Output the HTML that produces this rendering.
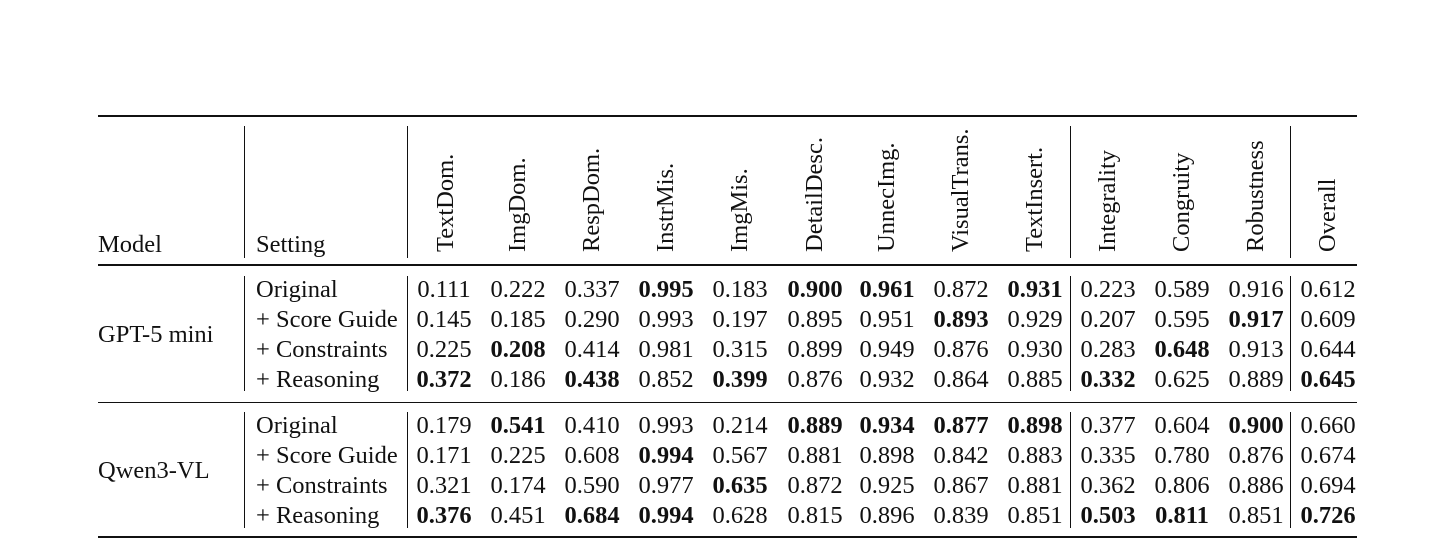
<!DOCTYPE html>
<html><head><meta charset="utf-8"><style>
body{margin:0;width:1456px;height:539px;background:#fff;position:relative;overflow:hidden;font-family:"Liberation Serif",serif;color:#111;font-size:24.5px}
.h{position:absolute;background:#111}
.c{position:absolute;width:90px;text-align:center;line-height:26px;white-space:nowrap}
.t{position:absolute;line-height:26px;white-space:nowrap}
.r{position:absolute;top:252px;line-height:24px;white-space:nowrap;transform-origin:0 0;transform:rotate(-90deg)}
b{font-weight:bold}
</style></head><body>
<div class="h" style="left:98px;top:115px;width:1259px;height:2px"></div>
<div class="h" style="left:98px;top:264px;width:1259px;height:2px"></div>
<div class="h" style="left:98px;top:402px;width:1259px;height:1px"></div>
<div class="h" style="left:98px;top:536px;width:1259px;height:2px"></div>

<div class="h" style="left:244px;top:126px;width:1px;height:132px"></div>
<div class="h" style="left:407px;top:126px;width:1px;height:132px"></div>
<div class="h" style="left:1070px;top:126px;width:1px;height:132px"></div>
<div class="h" style="left:1290px;top:126px;width:1px;height:132px"></div>
<div class="h" style="left:244px;top:276px;width:1px;height:115px"></div>
<div class="h" style="left:407px;top:276px;width:1px;height:115px"></div>
<div class="h" style="left:1070px;top:276px;width:1px;height:115px"></div>
<div class="h" style="left:1290px;top:276px;width:1px;height:115px"></div>
<div class="h" style="left:244px;top:412px;width:1px;height:116px"></div>
<div class="h" style="left:407px;top:412px;width:1px;height:116px"></div>
<div class="h" style="left:1070px;top:412px;width:1px;height:116px"></div>
<div class="h" style="left:1290px;top:412px;width:1px;height:116px"></div>

<div class="t" style="left:98px;top:232px">Model</div>
<div class="t" style="left:256px;top:232px">Setting</div>
<div class="r" style="left:434px">TextDom.</div>
<div class="r" style="left:506px">ImgDom.</div>
<div class="r" style="left:580px">RespDom.</div>
<div class="r" style="left:654px">InstrMis.</div>
<div class="r" style="left:728px">ImgMis.</div>
<div class="r" style="left:803px">DetailDesc.</div>
<div class="r" style="left:875px">UnnecImg.</div>
<div class="r" style="left:949px">VisualTrans.</div>
<div class="r" style="left:1023px">TextInsert.</div>
<div class="r" style="left:1096px">Integrality</div>
<div class="r" style="left:1170px">Congruity</div>
<div class="r" style="left:1244px">Robustness</div>
<div class="r" style="left:1316px">Overall</div>

<div class="t" style="left:98px;top:322px">GPT-5 mini</div>
<div class="t" style="left:98px;top:458px">Qwen3-VL</div>

<div id="rows"></div>
<script>
var cx=[444,518,592,666,740,815,887,961,1035,1108,1182,1256,1328];
var rows=[
[277,"Original","0.111|0.222|0.337|*0.995|0.183|*0.900|*0.961|0.872|*0.931|0.223|0.589|0.916|0.612"],
[307,"+ Score Guide","0.145|0.185|0.290|0.993|0.197|0.895|0.951|*0.893|0.929|0.207|0.595|*0.917|0.609"],
[337,"+ Constraints","0.225|*0.208|0.414|0.981|0.315|0.899|0.949|0.876|0.930|0.283|*0.648|0.913|0.644"],
[367,"+ Reasoning","*0.372|0.186|*0.438|0.852|*0.399|0.876|0.932|0.864|0.885|*0.332|0.625|0.889|*0.645"],
[413,"Original","0.179|*0.541|0.410|0.993|0.214|*0.889|*0.934|*0.877|*0.898|0.377|0.604|*0.900|0.660"],
[443,"+ Score Guide","0.171|0.225|0.608|*0.994|0.567|0.881|0.898|0.842|0.883|0.335|0.780|0.876|0.674"],
[473,"+ Constraints","0.321|0.174|0.590|0.977|*0.635|0.872|0.925|0.867|0.881|0.362|0.806|0.886|0.694"],
[503,"+ Reasoning","*0.376|0.451|*0.684|*0.994|0.628|0.815|0.896|0.839|0.851|*0.503|*0.811|0.851|*0.726"]];
var h="";
rows.forEach(function(r){
 h+='<div class="t" style="left:256px;top:'+r[0]+'px">'+r[1]+'</div>';
 r[2].split("|").forEach(function(v,i){
  var s=v[0]=="*"?"<b>"+v.slice(1)+"</b>":v;
  h+='<div class="c" style="left:'+(cx[i]-45)+'px;top:'+r[0]+'px">'+s+'</div>';
 });
});
document.getElementById("rows").innerHTML=h;
</script>
</body></html>
